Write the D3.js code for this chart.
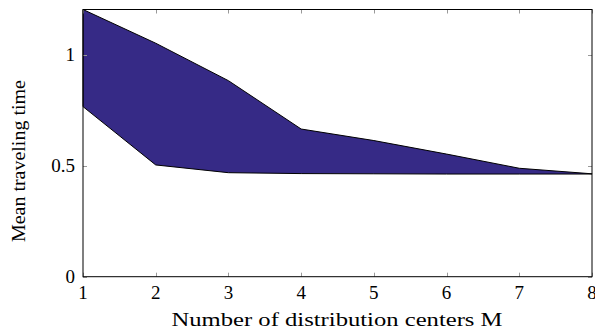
<!DOCTYPE html>
<html><head><meta charset="utf-8">
<script src="https://cdn.jsdelivr.net/npm/d3@7"></script>
<style>body{margin:0;background:#fff}svg{display:block}</style>
</head><body>
<svg id="c" width="595" height="336"></svg>
<script>
const centers = [1, 2, 3, 4, 5, 6, 7, 8];
const upper = [1.205, 1.053, 0.884, 0.666, 0.614, 0.553, 0.489, 0.464];
const lower = [0.767, 0.504, 0.469, 0.465, 0.464, 0.463, 0.463, 0.463];
const xTicks = [1, 2, 3, 4, 5, 6, 7, 8];
const yTicks = [0, 0.5, 1];
const yTickLabels = ["0", "0.5", "1"];
const xLabel = "Number of distribution centers M";
const yLabel = "Mean traveling time";

const svg = d3.select("#c");
const L = 83, R = 592, T = 9.5, B = 276.7;
const x = d3.scaleLinear().domain([1, 8]).range([L, R]);
const y = d3.scaleLinear().domain([0, d3.max(upper)]).range([B, T]);
const font = "'Liberation Serif', serif";

const data = centers.map((c, i) => ({c, u: upper[i], l: lower[i]}));
const area = d3.area().x(d => x(d.c)).y0(d => y(d.l)).y1(d => y(d.u));
svg.append("path").datum(data).attr("d", area)
  .attr("fill", "#362a86").attr("stroke", "#000").attr("stroke-width", 1)
  .attr("stroke-linejoin", "round");

// ticks (inside, mirrored)
const tl = 4;
const tg = svg.append("g").attr("stroke", "#999").attr("stroke-width", 1);
xTicks.forEach(t => {
  const px = Math.round(x(t)) + 0.5;
  tg.append("line").attr("x1", px).attr("x2", px).attr("y1", B).attr("y2", B - tl);
  tg.append("line").attr("x1", px).attr("x2", px).attr("y1", T).attr("y2", T + tl);
});
yTicks.forEach(t => {
  const py = Math.round(y(t)) + 0.5;
  tg.append("line").attr("x1", L).attr("x2", L + tl).attr("y1", py).attr("y2", py);
  tg.append("line").attr("x1", R).attr("x2", R - tl).attr("y1", py).attr("y2", py);
});

svg.append("rect").attr("x", L).attr("y", T).attr("width", R - L).attr("height", B - T)
  .attr("fill", "none").attr("stroke", "#000").attr("stroke-width", 1);

// tick labels
xTicks.forEach(t => {
  svg.append("text").attr("x", x(t)).attr("y", 299).attr("text-anchor", "middle")
    .attr("font-family", font).attr("font-size", 19).text(t);
});
yTicks.forEach((t, i) => {
  svg.append("text").attr("x", 75).attr("y", y(t) + 6).attr("text-anchor", "end")
    .attr("font-family", font).attr("font-size", 19).text(yTickLabels[i]);
});

svg.append("text").attr("x", (L + R) / 2 - 0.5).attr("y", 326).attr("text-anchor", "middle")
  .attr("font-family", font).attr("font-size", 18).attr("textLength", 331).attr("lengthAdjust", "spacingAndGlyphs").text(xLabel);
svg.append("text").attr("transform", `translate(25,${(T + B) / 2 + 18}) rotate(-90)`)
  .attr("text-anchor", "middle")
  .attr("font-family", font).attr("font-size", 18).attr("textLength", 162).attr("lengthAdjust", "spacingAndGlyphs").text(yLabel);
</script>
</body></html>
